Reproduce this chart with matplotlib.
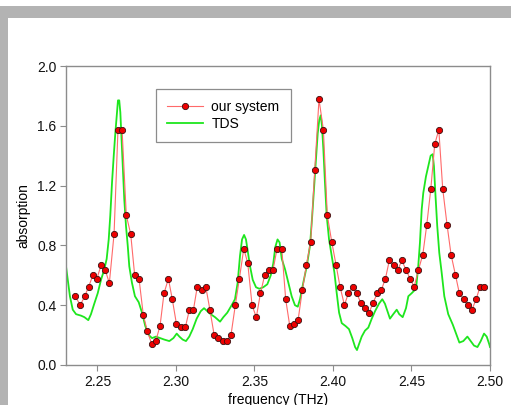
import matplotlib
matplotlib.use("Agg")
import matplotlib.pyplot as plt
from matplotlib.patches import Rectangle

plt.rcParams["font.family"] = ["Liberation Sans", "DejaVu Sans"]

# "our system" measurement (frequency in THz, absorption)
sys_freq = [
    2.2359, 2.2391, 2.2419, 2.2444, 2.2472, 2.2497, 2.2523, 2.2550, 2.2576, 2.2606,
    2.2631, 2.2657, 2.2684, 2.2712, 2.2737, 2.2765, 2.2792, 2.2818, 2.2846, 2.2871,
    2.2899, 2.2924, 2.2952, 2.2977, 2.3003, 2.3033, 2.3060, 2.3085, 2.3111, 2.3136,
    2.3164, 2.3190, 2.3217, 2.3243, 2.3270, 2.3298, 2.3325, 2.3351, 2.3378, 2.3404,
    2.3432, 2.3457, 2.3485, 2.3512, 2.3538, 2.3566, 2.3591, 2.3618, 2.3644, 2.3674,
    2.3699, 2.3725, 2.3752, 2.3778, 2.3805, 2.3831, 2.3858, 2.3884, 2.3911, 2.3939,
    2.3964, 2.3992, 2.4020, 2.4045, 2.4073, 2.4098, 2.4126, 2.4151, 2.4177, 2.4204,
    2.4230, 2.4255, 2.4283, 2.4308, 2.4334, 2.4359, 2.4387, 2.4413, 2.4438, 2.4466,
    2.4491, 2.4517, 2.4544, 2.4572, 2.4597, 2.4623, 2.4648, 2.4674, 2.4699, 2.4727,
    2.4752, 2.4780, 2.4805, 2.4833, 2.4859, 2.4884, 2.4911, 2.4937, 2.4964,
]
sys_abs = [
    0.459, 0.401, 0.459, 0.524, 0.602, 0.577, 0.667, 0.635, 0.548, 0.876,
    1.574, 1.574, 1.001, 0.876, 0.604, 0.577, 0.337, 0.225, 0.140, 0.158,
    0.263, 0.479, 0.577, 0.439, 0.276, 0.252, 0.252, 0.366, 0.366, 0.524,
    0.500, 0.524, 0.366, 0.203, 0.178, 0.158, 0.158, 0.203, 0.399, 0.577,
    0.778, 0.684, 0.399, 0.319, 0.479, 0.604, 0.635, 0.635, 0.778, 0.778,
    0.439, 0.261, 0.276, 0.301, 0.502, 0.667, 0.825, 1.302, 1.777, 1.574,
    1.001, 0.825, 0.667, 0.524, 0.401, 0.479, 0.524, 0.479, 0.417, 0.383,
    0.348, 0.417, 0.479, 0.502, 0.577, 0.700, 0.667, 0.635, 0.700, 0.635,
    0.577, 0.524, 0.635, 0.738, 0.934, 1.177, 1.476, 1.574, 1.177, 0.934,
    0.738, 0.602, 0.479, 0.439, 0.401, 0.366, 0.439, 0.524, 0.524,
]

# TDS reference spectrum
tds_freq = [
    2.2300, 2.2311, 2.2325, 2.2343, 2.2364, 2.2396, 2.2417, 2.2442, 2.2459, 2.2480,
    2.2502, 2.2523, 2.2544, 2.2559, 2.2572, 2.2582, 2.2593, 2.2604, 2.2614, 2.2623,
    2.2631, 2.2639, 2.2646, 2.2652, 2.2661, 2.2671, 2.2682, 2.2693, 2.2703, 2.2720,
    2.2739, 2.2763, 2.2784, 2.2805, 2.2827, 2.2848, 2.2873, 2.2899, 2.2926, 2.2958,
    2.2984, 2.3005, 2.3022, 2.3043, 2.3064, 2.3085, 2.3107, 2.3132, 2.3158, 2.3179,
    2.3200, 2.3221, 2.3249, 2.3281, 2.3302, 2.3327, 2.3355, 2.3376, 2.3393, 2.3408,
    2.3421, 2.3434, 2.3446, 2.3459, 2.3472, 2.3489, 2.3510, 2.3531, 2.3556, 2.3582,
    2.3604, 2.3620, 2.3633, 2.3647, 2.3660, 2.3674, 2.3695, 2.3716, 2.3737, 2.3758,
    2.3776, 2.3790, 2.3811, 2.3833, 2.3854, 2.3868, 2.3881, 2.3892, 2.3903, 2.3913,
    2.3922, 2.3930, 2.3939, 2.3949, 2.3960, 2.3975, 2.3992, 2.4009, 2.4024, 2.4039,
    2.4056, 2.4081, 2.4102, 2.4123, 2.4141, 2.4153, 2.4166, 2.4183, 2.4204, 2.4225,
    2.4247, 2.4268, 2.4293, 2.4314, 2.4331, 2.4363, 2.4384, 2.4406, 2.4422, 2.4444,
    2.4465, 2.4480, 2.4501, 2.4529, 2.4543, 2.4554, 2.4565, 2.4575, 2.4592, 2.4607,
    2.4622, 2.4635, 2.4643, 2.4652, 2.4664, 2.4677, 2.4692, 2.4709, 2.4734, 2.4763,
    2.4784, 2.4805, 2.4830, 2.4856, 2.4877, 2.4898, 2.4920, 2.4941, 2.4962, 2.4979,
    2.4995, 2.5000,
]
tds_abs = [
    0.66, 0.57, 0.46, 0.37, 0.34, 0.33, 0.32, 0.30, 0.34, 0.41,
    0.48, 0.57, 0.64, 0.71, 0.84, 1.00, 1.22, 1.40, 1.55, 1.67,
    1.77, 1.77, 1.69, 1.55, 1.33, 1.11, 0.93, 0.80, 0.66, 0.55,
    0.46, 0.42, 0.35, 0.26, 0.20, 0.18, 0.19, 0.18, 0.17, 0.16,
    0.18, 0.21, 0.19, 0.17, 0.16, 0.19, 0.24, 0.31, 0.36, 0.38,
    0.36, 0.34, 0.32, 0.29, 0.32, 0.35, 0.40, 0.44, 0.55, 0.73,
    0.84, 0.87, 0.84, 0.75, 0.66, 0.57, 0.52, 0.51, 0.52, 0.54,
    0.60, 0.68, 0.79, 0.84, 0.82, 0.71, 0.64, 0.55, 0.46, 0.40,
    0.39, 0.44, 0.55, 0.66, 0.80, 1.00, 1.20, 1.38, 1.55, 1.64,
    1.67, 1.60, 1.44, 1.22, 1.00, 0.84, 0.73, 0.62, 0.48, 0.35,
    0.28, 0.26, 0.24, 0.18, 0.12, 0.10, 0.14, 0.19, 0.23, 0.25,
    0.31, 0.36, 0.41, 0.44, 0.41, 0.31, 0.34, 0.37, 0.34, 0.32,
    0.38, 0.46, 0.48, 0.51, 0.66, 0.82, 1.04, 1.15, 1.26, 1.33,
    1.40, 1.41, 1.33, 1.15, 0.93, 0.75, 0.62, 0.46, 0.34, 0.27,
    0.21, 0.15, 0.16, 0.19, 0.16, 0.13, 0.12, 0.16, 0.21, 0.19,
    0.14, 0.12,
]

x_ticks = [2.25, 2.30, 2.35, 2.40, 2.45, 2.50]
y_ticks = [0.0, 0.4, 0.8, 1.2, 1.6, 2.0]

fig = plt.figure(figsize=(5.11, 4.05), dpi=100)

# grey frame of the slide screenshot
fig.patches.append(Rectangle((0, 0), 8 / 511, 399 / 405, transform=fig.transFigure,
                             facecolor="#b3b3b3", edgecolor="none", zorder=0))
fig.patches.append(Rectangle((0, 387.5 / 405), 1, 11.5 / 405, transform=fig.transFigure,
                             facecolor="#b3b3b3", edgecolor="none", zorder=0))

ax = fig.add_axes([66 / 511, 40 / 405, 424 / 511, 299 / 405])

ax.plot(sys_freq, sys_abs, color="#ff6a6a", lw=0.8, marker="o", ms=4.5,
        mfc="#ee0000", mec="#3a1010", mew=0.6, label="our system", zorder=3)
ax.plot(tds_freq, tds_abs, color="#1ee61e", lw=1.3, label="TDS", zorder=2)

ax.set_xlim(2.23, 2.50)
ax.set_ylim(0.0, 2.0)
ax.set_xticks(x_ticks)
ax.set_xticklabels([f"{t:.2f}" for t in x_ticks])
ax.set_yticks(y_ticks)
ax.set_yticklabels([f"{t:.1f}" for t in y_ticks])

for s in ax.spines.values():
    s.set_color("#8c8c8c")
    s.set_linewidth(1.0)
ax.tick_params(direction="out", length=4, width=0.8, color="#8c8c8c",
               labelsize=10, labelcolor="#111111", pad=3)

ax.set_xlabel("frequency (THz)", fontsize=10)
ax.set_ylabel("absorption", fontsize=10)
ax.xaxis.set_label_coords(0.5, -0.093)
ax.yaxis.set_label_coords(-0.083, 0.5)

leg = ax.legend(loc="upper left", bbox_to_anchor=(0.212, 0.923), fontsize=10,
                frameon=True, fancybox=False, borderpad=0.8, handlelength=2.6,
                handletextpad=0.6, labelspacing=0.2, borderaxespad=0)
leg.get_frame().set_edgecolor("#707070")
leg.get_frame().set_linewidth(0.9)

fig.savefig("out.png", dpi=100)
